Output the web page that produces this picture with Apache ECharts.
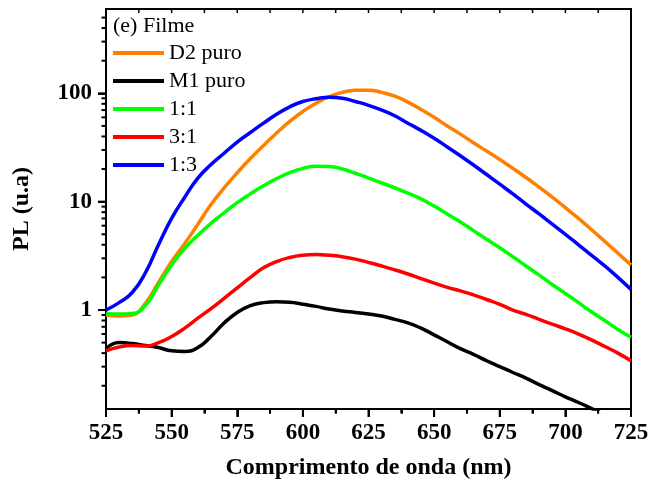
<!DOCTYPE html>
<html>
<head>
<meta charset="utf-8">
<script src="https://cdn.jsdelivr.net/npm/echarts@6/dist/echarts.min.js"></script>
<style>
  html, body { margin: 0; padding: 0; background: #fff; }
  #chart { width: 652px; height: 489px; }
</style>
</head>
<body>
<div id="chart"></div>
<script>
// comprimento de onda (nm)
const wavelength = [525, 530, 535, 540, 545, 550, 555, 560, 565, 570, 575, 580, 585, 590, 595, 600, 605, 610, 615, 620,
  625, 630, 635, 640, 645, 650, 655, 660, 665, 670, 675, 680, 685, 690, 695, 700, 705, 710, 715, 720, 725];

// PL (u.a)
const d2Puro = [0.9, 0.88, 0.9, 1.15, 1.8, 2.8, 4.1, 6.2, 9.4, 13.4, 18.5, 25, 33, 43, 55, 68, 81, 93, 102, 106.5,
  107, 102, 94, 83, 71, 60, 50, 42, 35, 29.3, 24.5, 20.3, 16.7, 13.6, 11, 8.8, 7, 5.5, 4.3, 3.35, 2.6];
const m1Puro = [0.44, 0.5, 0.49, 0.47, 0.45, 0.42, 0.415, 0.45, 0.57, 0.76, 0.95, 1.1, 1.17, 1.19, 1.18, 1.13, 1.08, 1.02, 0.98, 0.95,
  0.92, 0.88, 0.82, 0.76, 0.68, 0.59, 0.51, 0.44, 0.39, 0.34, 0.3, 0.265, 0.235, 0.205, 0.18, 0.158, 0.14, 0.123, 0.108, 0.095, 0.083];
const mix11 = [0.93, 0.92, 0.93, 1.1, 1.7, 2.6, 3.7, 4.9, 6.3, 7.9, 9.8, 11.8, 14, 16.3, 18.5, 20.3, 21.2, 21.1, 20.0, 18.3,
  16.5, 14.9, 13.4, 12, 10.6, 9.1, 7.7, 6.5, 5.4, 4.5, 3.75, 3.1, 2.55, 2.1, 1.72, 1.42, 1.17, 0.96, 0.8, 0.66, 0.56];
const mix31 = [0.42, 0.455, 0.47, 0.465, 0.5, 0.57, 0.68, 0.84, 1.03, 1.28, 1.6, 2.0, 2.45, 2.8, 3.05, 3.2, 3.25, 3.2, 3.1, 2.95,
  2.75, 2.55, 2.35, 2.15, 1.95, 1.77, 1.62, 1.5, 1.38, 1.25, 1.13, 1.0, 0.91, 0.82, 0.74, 0.67, 0.6, 0.53, 0.46, 0.4, 0.34];
const mix13 = [1.0, 1.17, 1.45, 2.2, 4.0, 7.0, 11, 16.5, 22, 28, 35.5, 43.5, 53, 64, 75, 84, 89, 92, 90, 84,
  77.5, 70, 62, 53, 45.5, 38.5, 32, 26.5, 21.8, 17.8, 14.5, 11.8, 9.5, 7.7, 6.2, 5.0, 4.0, 3.2, 2.55, 2.0, 1.55];

const seriesNames = ["D2 puro", "M1 puro", "1:1", "3:1", "1:3"];
const seriesColors = ["#FF8000", "#000000", "#00FF00", "#FF0000", "#0000FF"];
const seriesValues = [d2Puro, m1Puro, mix11, mix31, mix13];

// marcas dos eixos
const xMajor = [525, 550, 575, 600, 625, 650, 675, 700, 725];
const xMinor = [537.5, 562.5, 587.5, 612.5, 637.5, 662.5, 687.5, 712.5];
const yMajor = [1, 10, 100];
const yMinor = [0.2, 0.3, 0.4, 0.5, 0.6, 0.7, 0.8, 0.9, 2, 3, 4, 5, 6, 7, 8, 9,
  20, 30, 40, 50, 60, 70, 80, 90, 200, 300, 400, 500];

const font = "Liberation Serif";
const xMin = 525;
const xMax = 725;
const yMin = 0.122;
const yMax = 600;

// comprimento de cada tipo de marca (px)
const tickLen = { major: 8, minor: 4.5, top: 4 };

const myChart = echarts.init(document.getElementById("chart"));

// marcas do eixo x: [valor, y de apoio, tipo]
const xTickData = [
  ...xMajor.map(v => [v, yMin, "major"]),
  ...xMinor.map(v => [v, yMin, "minor"]),
  ...xMajor.concat(xMinor).map(v => [v, yMax, "top"]),
];
// marcas do eixo y: [x de apoio, valor, tipo]
const yTickData = [
  ...yMajor.map(v => [xMin, v, "major"]),
  ...yMinor.map(v => [xMin, v, "minor"]),
];

function renderXTick(params, api) {
  const kind = xTickData[params.dataIndex][2];
  const p = api.coord([api.value(0), api.value(1)]);
  const len = tickLen[kind];
  return {
    type: "line",
    shape: { x1: p[0], y1: p[1], x2: p[0], y2: p[1] + len },
    style: { stroke: "#000", lineWidth: kind === "top" ? 1.5 : 2 },
  };
}

function renderYTick(params, api) {
  const kind = yTickData[params.dataIndex][2];
  const p = api.coord([api.value(0), api.value(1)]);
  const len = tickLen[kind];
  return {
    type: "line",
    shape: { x1: p[0] - len, y1: p[1], x2: p[0], y2: p[1] },
    style: { stroke: "#000", lineWidth: 2 },
  };
}

const lineSeries = seriesNames.map((name, k) => ({
  name: name,
  type: "line",
  smooth: 0.5,
  symbol: "none",
  clip: true,
  color: seriesColors[k],
  lineStyle: { width: 3.5, color: seriesColors[k] },
  data: wavelength.map((w, i) => [w, seriesValues[k][i]]),
}));

const option = {
  animation: false,
  backgroundColor: "#fff",
  title: {
    text: "(e) Filme",
    left: 108,
    top: 10,
    textStyle: { fontFamily: font, fontSize: 22, fontWeight: "normal", color: "#000" },
  },
  legend: {
    orient: "vertical",
    left: 108,
    top: 36,
    icon: "rect",
    itemWidth: 51,
    itemHeight: 4,
    itemGap: 4,
    data: seriesNames,
    textStyle: { fontFamily: font, fontSize: 22, color: "#000", lineHeight: 24 },
  },
  grid: {
    left: 106,
    right: 21,
    top: 9,
    bottom: 80,
    show: true,
    borderColor: "#000",
    borderWidth: 2,
  },
  xAxis: {
    type: "value",
    min: xMin,
    max: xMax,
    interval: 25,
    name: "Comprimento de onda (nm)",
    nameLocation: "middle",
    nameGap: 47,
    nameTextStyle: { fontFamily: font, fontSize: 24, fontWeight: "bold", color: "#000" },
    axisLine: { show: true, lineStyle: { color: "#000", width: 2 } },
    axisTick: { show: true, length: 8, lineStyle: { color: "#000", width: 2 } },
    minorTick: { show: true, splitNumber: 2, length: 4.5, lineStyle: { color: "#000", width: 2 } },
    axisLabel: { fontFamily: font, fontSize: 23, fontWeight: "bold", color: "#000", margin: 13 },
    splitLine: { show: false },
  },
  yAxis: {
    type: "log",
    logBase: 10,
    min: yMin,
    max: yMax,
    name: "PL (u.a)",
    nameLocation: "middle",
    nameGap: 72,
    nameTextStyle: { fontFamily: font, fontSize: 24, fontWeight: "bold", color: "#000" },
    axisLine: { show: true, lineStyle: { color: "#000", width: 2 } },
    axisTick: { show: true, customValues: yMajor, length: 8, lineStyle: { color: "#000", width: 2 } },
    axisLabel: { customValues: yMajor, fontFamily: font, fontSize: 23, fontWeight: "bold", color: "#000", margin: 14 },
    splitLine: { show: false },
  },
  series: lineSeries.concat([
    {
      name: "xTicks",
      type: "custom",
      clip: false,
      silent: true,
      z: 5,
      renderItem: renderXTick,
      data: xTickData.map(d => [d[0], d[1]]),
    },
    {
      name: "yTicks",
      type: "custom",
      clip: false,
      silent: true,
      z: 5,
      renderItem: renderYTick,
      data: yTickData.map(d => [d[0], d[1]]),
    },
  ]),
};

myChart.setOption(option);
</script>
</body>
</html>
